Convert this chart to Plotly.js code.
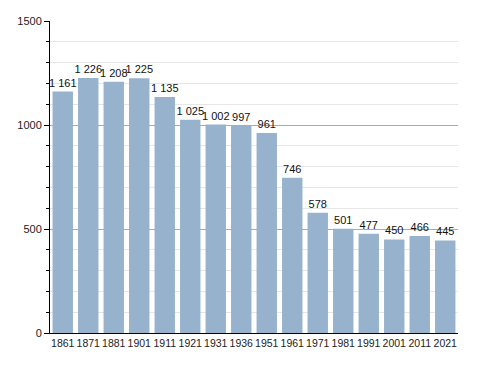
<!DOCTYPE html>
<html><head><meta charset="utf-8">
<script src="https://cdn.plot.ly/plotly-3.0.1.min.js"></script>
<style>html,body{margin:0;padding:0;background:#fff}#c{width:488px;height:373px}</style>
</head><body><div id="c"></div>
<script>
const years = ["1861","1871","1881","1901","1911","1921","1931","1936","1951","1961","1971","1981","1991","2001","2011","2021"];
const population = [1161,1226,1208,1225,1135,1025,1002,997,961,746,578,501,477,450,466,445];

const trace = {
  type: 'bar',
  x: years,
  y: population,
  marker: {color: '#97b2cd', line: {width: 0}},
  texttemplate: '%{y:,}',
  textposition: 'outside',
  constraintext: 'none',
  cliponaxis: false,
  textfont: {family: 'Liberation Sans, Arial, sans-serif', size: 11, color: '#111'},
  hoverinfo: 'none'
};

const layout = {
  width: 488, height: 373,
  margin: {l: 50, r: 30, t: 21, b: 40},
  paper_bgcolor: '#fff', plot_bgcolor: '#fff',
  separators: '. ',
  bargap: 0.2,
  showlegend: false,
  font: {family: 'Liberation Sans, Arial, sans-serif', size: 11, color: '#222'},
  xaxis: {
    type: 'category',
    showline: true, linecolor: '#000', linewidth: 1,
    ticks: '', showgrid: false, tickangle: 0, automargin: false,
    tickfont: {size: 10.5, color: '#222'}
  },
  yaxis: {
    range: [0, 1500],
    dtick: 500, tick0: 0,
    showline: true, linecolor: '#000', linewidth: 1,
    ticks: 'outside', ticklen: 5, tickcolor: '#000',
    showgrid: true, gridcolor: '#aaaaaa', gridwidth: 1,
    zeroline: false,
    tickfont: {size: 11, color: '#222'},
    minor: {dtick: 100, ticks: 'outside', ticklen: 3, tickcolor: '#000', showgrid: true, gridcolor: '#e6e6e6', gridwidth: 1}
  }
};

Plotly.newPlot('c', [trace], layout, {staticPlot: true, displayModeBar: false});
</script>
</body></html>
